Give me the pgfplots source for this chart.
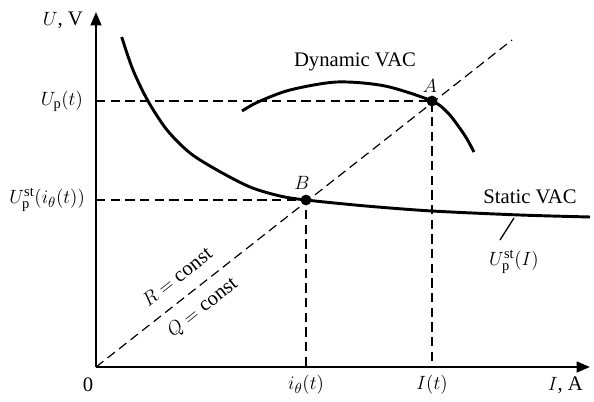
\documentclass[border=0pt]{standalone}
\usepackage{fontspec}
\setmainfont{Liberation Serif}
\usepackage{pgfplots}
\pgfplotsset{compat=1.18}
\usetikzlibrary{arrows.meta}
\begin{document}
\fontsize{15.5}{18}\selectfont
\begin{tikzpicture}
\begin{axis}[
  x=0.75pt, y=0.75pt,
  xmin=0, xmax=494, ymin=0, ymax=355,
  enlargelimits=false,
  axis lines=left,
  axis line style={line width=1.6pt, -{Triangle[length=10pt,width=8pt]}},
  ticks=none,
  clip=false,
  every node/.append style={font=\fontsize{15.5}{18}\selectfont},
]
% dashed lines
\addplot[black, line width=0.9pt, dash pattern=on 7pt off 4pt] coordinates {(0,0) (416,327)};
\addplot[black, line width=0.9pt, dash pattern=on 7pt off 4pt] coordinates {(0,266) (336,266) (336,0)};
\addplot[black, line width=0.9pt, dash pattern=on 7pt off 4pt] coordinates {(0,167) (210,167) (210,0)};
% static VAC
\addplot[black, line width=2.2pt, smooth] coordinates {
 (25.7,330) (37,297) (52,266) (71,237) (94,214) (121,197) (154,180) (184,171) (210,167)
 (270,161) (336,156) (424,152) (494,150)};
% dynamic VAC
\addplot[black, line width=2.2pt, smooth] coordinates {
 (146,256) (162,265) (194,277) (241,285) (289,281) (336,266) (352,254) (363,240) (371,228) (378,215)};
% points
\addplot[only marks, mark=*, mark size=3.8pt, black] coordinates {(336,266) (210,167)};
% leader
\addplot[black, line width=1pt] coordinates {(418,149) (404,127)};
% labels
\node[anchor=east] at (axis cs:-6,347) {$U$, V};
\node[anchor=east] at (axis cs:-6,266) {$U_{\mathrm{p}}(t)$};
\node[anchor=east] at (axis cs:-4,167) {$U^{\mathrm{st}}_{\mathrm{p}}(i_{\theta}(t))$};
\node at (axis cs:-8,-18) {0};
\node at (axis cs:210,-18) {$i_{\theta}(t)$};
\node at (axis cs:336,-18) {$I(t)$};
\node[anchor=east] at (axis cs:494,-18) {$I$, A};
\node at (axis cs:259,305) {Dynamic VAC};
\node at (axis cs:334,281) {$A$};
\node at (axis cs:206,184) {$B$};
\node at (axis cs:434,170) {Static VAC};
\node at (axis cs:418,105) {$U^{\mathrm{st}}_{\mathrm{p}}(I)$};
\node[rotate=38.4, inner sep=1pt] at (axis cs:81,90) {$R=\mathrm{const}$};
\node[rotate=38.4, inner sep=1pt] at (axis cs:107,59) {$Q=\mathrm{const}$};
\coordinate (bl) at (axis cs:-96,-34);
\coordinate (tr) at (axis cs:498,367);
\end{axis}
\pgfresetboundingbox
\path (bl) rectangle (tr);
\end{tikzpicture}
\end{document}
